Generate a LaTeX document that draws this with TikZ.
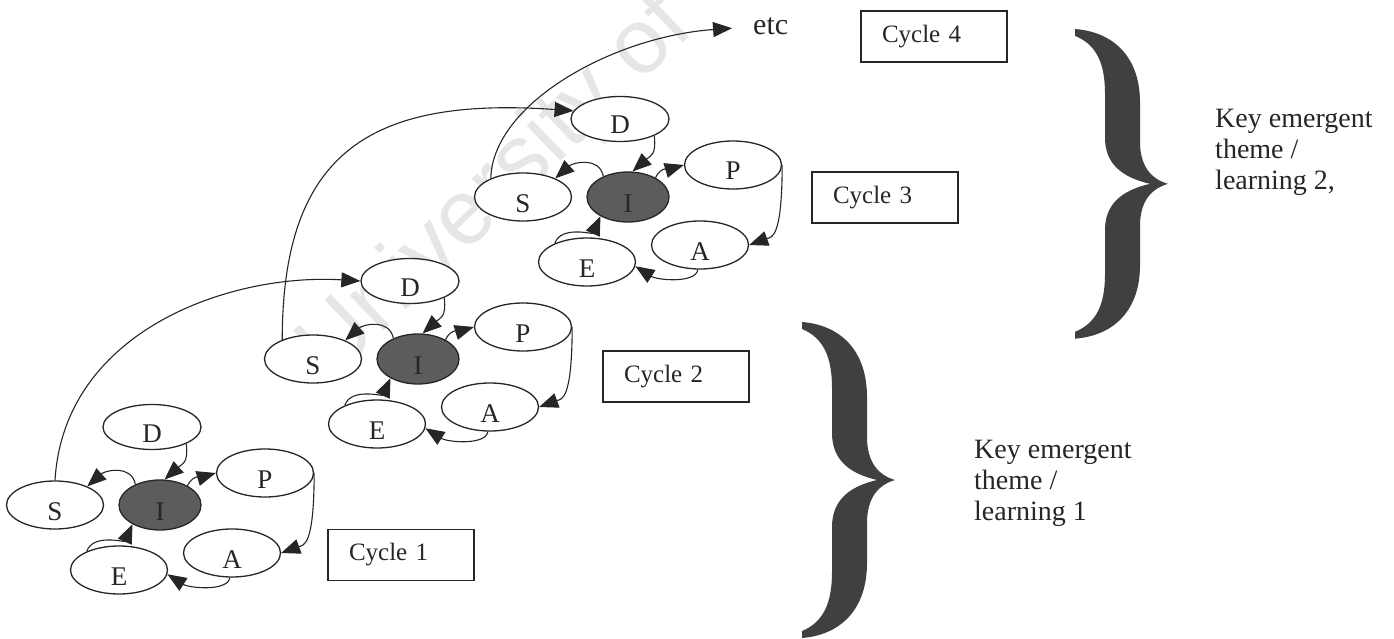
\documentclass[tikz,border=0pt]{standalone}
\usepackage{fontspec}
\setmainfont{Liberation Serif}
\newfontfamily\wmfont{Liberation Sans}
\usetikzlibrary{arrows.meta,shapes.geometric,calc}

\definecolor{ink}{HTML}{262626}
\definecolor{hubfill}{HTML}{5C5C5C}
\definecolor{bracefill}{HTML}{404040}
\definecolor{wmgrey}{HTML}{E6E6E6}

% letter sits a little below the centre of its ellipse
\newcommand\low[1]{\raisebox{-15pt}[0pt][0pt]{#1}}

\tikzset{
  stage/.style={ellipse, draw=ink, line width=1.3pt, fill=white, inner sep=0pt,
    minimum width=97pt, minimum height=48pt, font=\fontsize{27}{27}\selectfont, text=ink},
  deci/.style={stage, minimum width=98pt, minimum height=45pt},
  hub/.style={stage, fill=hubfill, draw=black!85, minimum width=82pt, minimum height=50pt},
  conn/.style={draw=ink, line width=1.1pt, -{Triangle[length=19pt,width=15pt]}},
  cyclebox/.style={rectangle, draw=ink, line width=1.4pt, minimum width=146pt,
    minimum height=51pt, text width=104pt, inner xsep=21pt, align=left,
    font=\fontsize{25}{25}\selectfont, text=ink},
  keytext/.style={anchor=north west, inner sep=0pt, align=left,
    font=\fontsize{28}{31}\selectfont, text=ink},
  wm/.style={inner sep=0pt, text=wmgrey, font=\wmfont\fontsize{92}{92}\selectfont},
}

% one S-D-I-P-A-E cycle, centred on its dark I ellipse
\newcommand\drawcycle[3]{%
  \node[hub]   (#1I) at (#2,#3) {\low{I}};
  \node[stage] (#1S) at ($(#1I)+(-105,0)$) {\low{S}};
  \node[deci]  (#1D) at ($(#1I)+(-8,-78)$) {\low{D}};
  \node[stage] (#1P) at ($(#1I)+(105,-32)$) {\low{P}};
  \node[stage] (#1A) at ($(#1I)+(72,48)$) {\low{A}};
  \node[stage] (#1E) at ($(#1I)+(-41,65)$) {\low{E}};
  \draw[conn] (#1D.-26) .. controls +(2,20) and +(18,-16) .. (#1I.80);
  \draw[conn] (#1I.140) .. controls +(-4,-20) and +(18,-16) .. (#1S.30);
  \draw[conn] (#1I.35) .. controls +(5,-12) and +(-10,3) .. (#1P.west);
  \draw[conn] (#1P.east) .. controls +(0,75) and +(22,-8) .. (#1A.east);
  \draw[conn] (#1A.-95) .. controls +(-2,14) and +(22,14) .. (#1E.-5);
  \draw[conn] (#1E.150) .. controls +(6,-18) and +(-8,18) .. (#1I.215);
}

% right curly brace, 93 wide and 316 high, top tip at the origin
\newcommand\bracepath{(0,0) .. controls (38,3) and (65,28) .. (65,75) -- (65,115)
  .. controls (65,140) and (76,153) .. (93,158)
  .. controls (76,163) and (65,176) .. (65,201) -- (65,241)
  .. controls (65,288) and (38,313) .. (0,316) -- (0,309)
  .. controls (22,300) and (30,280) .. (30,250) -- (30,205)
  .. controls (30,180) and (45,165) .. (75,158)
  .. controls (45,151) and (30,136) .. (30,111) -- (30,66)
  .. controls (30,36) and (22,16) .. (0,7) -- cycle}

\begin{document}
\begin{tikzpicture}[x=1pt, y=-1pt]
\useasboundingbox (0,0) rectangle (1394,639);
\fill[white] (0,0) rectangle (1394,639);

% faint watermark
\node[wm, rotate=44, anchor=base west] (wmark) at (332,382) {University of};

\drawcycle{a}{160}{505}
\drawcycle{b}{418}{359}
\drawcycle{c}{628}{197}

\node[anchor=base west, inner sep=0pt, text=ink, font=\fontsize{30}{30}\selectfont] (etc) at (753,35) {etc};

% links from one cycle to the next
\draw[conn] (aS.north) .. controls +(9,-150) and +(-130,-8) .. (bD.west);
\draw[conn] (bS.148) .. controls +(0,-190) and +(-200,-14) .. (cD.170);
\draw[conn, shorten >=21pt] (cS.150) .. controls +(2,-75) and +(-140,10) .. (etc.west);

\node[cyclebox] (cyc1) at (401,555) {Cycle 1};
\node[cyclebox] (cyc2) at (676,376.5) {Cycle 2};
\node[cyclebox] (cyc3) at (885,197.5) {Cycle 3};
\node[cyclebox] (cyc4) at (934,36.5) {Cycle 4};

% braces grouping the cycles
\fill[bracefill, shift={(802,322)}] \bracepath;
\fill[bracefill, shift={(1075,29)}, yscale=0.98] \bracepath;

\node[keytext] (key1) at (974,440) {Key emergent\\theme /\\learning 1};
\node[keytext] (key2) at (1215,109) {Key emergent\\theme /\\learning 2,};
\end{tikzpicture}
\end{document}
